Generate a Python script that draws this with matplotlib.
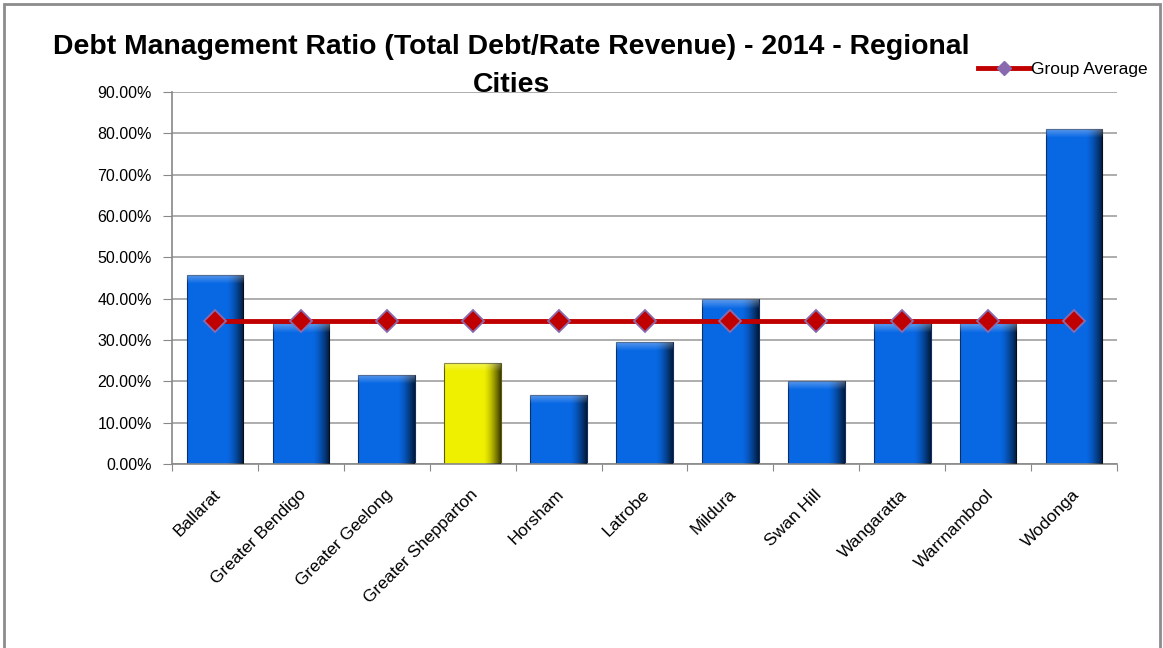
# Debt management ratio chart - 2014 regional cities
import numpy as np
import matplotlib
matplotlib.use("Agg")
import matplotlib.pyplot as plt
import matplotlib.transforms as mtransforms
from matplotlib.ticker import FuncFormatter
from matplotlib.lines import Line2D
from matplotlib.patches import Rectangle

plt.rcParams['font.family'] = ['Liberation Sans', 'DejaVu Sans']

# data
cities = ["Ballarat", "Greater Bendigo", "Greater Geelong", "Greater Shepparton",
          "Horsham", "Latrobe", "Mildura", "Swan Hill", "Wangaratta",
          "Warrnambool", "Wodonga"]
debt_ratio = [45.8, 34.0, 21.5, 24.5, 16.8, 29.5, 39.8, 20.2, 34.0, 34.0, 81.1]
group_average = [34.5] * len(cities)
highlight = "Greater Shepparton"

fig = plt.figure(figsize=(11.63, 6.48), dpi=100)
ax = fig.add_axes([172 / 1163, 1 - 464 / 648, 945 / 1163, 372 / 648])

x = np.arange(len(cities))
bar_colors = ["#EFEF00" if c == highlight else "#0868E4" for c in cities]
edge_colors = ["#5A5A00" if c == highlight else "#0B2F66" for c in cities]
bars = ax.bar(x, debt_ratio, width=0.66, color=bar_colors, edgecolor=edge_colors,
              linewidth=0.8, zorder=2)

# bevel shading: dark towards the right edge, light strip at the top
side = np.linspace(0, 1, 64).reshape(1, -1)
side = np.clip((side - 0.7) / 0.3, 0, 1) ** 1.5
dark = np.zeros((1, 64, 4))
dark[..., 3] = side * 0.75
top = np.zeros((16, 1, 4))
top[..., :3] = 1.0
top[:, 0, 3] = np.linspace(0.35, 0.0, 16)
for b in bars:
    x0, w, h = b.get_x(), b.get_width(), b.get_height()
    im = ax.imshow(dark, extent=[x0, x0 + w, 0, h], aspect="auto", zorder=3,
                   interpolation="bilinear")
    im.set_clip_path(b)
    im2 = ax.imshow(top, extent=[x0, x0 + w, max(h - 2.2, 0), h], aspect="auto",
                    zorder=3, interpolation="bilinear", origin="upper")
    im2.set_clip_path(b)

ax.plot(x, group_average, color="#C00000", linewidth=3.5, marker="D", markersize=11.5,
        markerfacecolor="#C00000", markeredgecolor="#8A6AAE", markeredgewidth=1.3,
        zorder=4)

ax.set_xlim(-0.5, len(cities) - 0.5)
ax.set_ylim(0, 90)
ax.set_yticks(np.arange(0, 91, 10))
ax.yaxis.set_major_formatter(FuncFormatter(lambda v, p: f"{v:.2f}%"))
ax.yaxis.grid(True, color="#A0A0A0", linewidth=1.2, zorder=0)
ax.set_axisbelow(True)

# category labels, rotated, ending just right of each bar centre
ax.set_xticks(np.arange(-0.5, len(cities), 1))
ax.set_xticklabels([])
ax.tick_params(axis="x", length=5, color="#888888")
lbl_tf = ax.get_xaxis_transform() + mtransforms.ScaledTranslation(
    3 / 100, -28 / 100, fig.dpi_scale_trans)
for i, name in enumerate(cities):
    ax.text(i, 0, name, transform=lbl_tf, rotation=45, rotation_mode="anchor",
            ha="right", va="center", fontsize=12.5)

ax.tick_params(axis="y", length=6.5, color="#888888", labelsize=11.5, pad=8)

for s in ["top", "right"]:
    ax.spines[s].set_visible(False)
for s in ["left", "bottom"]:
    ax.spines[s].set_color("#888888")
    ax.spines[s].set_linewidth(1.2)

fig.text(511 / 1163, 1 - 47 / 648, "Debt Management Ratio (Total Debt/Rate Revenue) - 2014 - Regional",
         ha="center", va="center", fontsize=20.4, fontweight="bold")
fig.text(511 / 1163, 1 - 85 / 648, "Cities", ha="center", va="center",
         fontsize=20.4, fontweight="bold")

handle = Line2D([], [], color="#C00000", linewidth=3.5, marker="D", markersize=7,
                markerfacecolor="#8A6AAE", markeredgecolor="#8A6AAE")
fig.legend([handle], ["Group Average"], loc="center left",
           bbox_to_anchor=(962 / 1163, 1 - 69 / 648), frameon=False, fontsize=12.5,
           handlelength=3, handletextpad=0.1)

# outer chart frame
fig.patches.append(Rectangle((4 / 1163, -0.05), 1156 / 1163, 1 - 4 / 648 + 0.05,
                             transform=fig.transFigure, fill=False,
                             edgecolor="#8C8C8C", linewidth=2))

fig.savefig("out.png", dpi=100)
